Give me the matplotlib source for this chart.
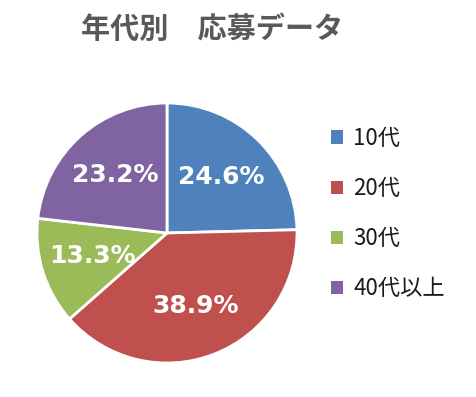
import matplotlib
matplotlib.use("Agg")
import matplotlib.pyplot as plt

plt.rcParams['font.family'] = ['Noto Sans CJK JP', 'DejaVu Sans']

categories = ['10代', '20代', '30代', '40代以上']
values = [24.6, 38.9, 13.3, 23.2]
colors = ['#4F81BD', '#C0504D', '#9BBB59', '#8064A2']
title = '年代別　応募データ'

fig = plt.figure(figsize=(4.76, 3.97), dpi=100)
fig.patch.set_facecolor('white')

W, H = 476, 397
cx, cy, r = 167, 233, 130
ax = fig.add_axes([(cx - r) / W, (H - cy - r) / H, 2 * r / W, 2 * r / H])

wedges, texts, autotexts = ax.pie(
    values, colors=colors, startangle=90, counterclock=False,
    autopct='%.1f%%', pctdistance=0.6,
    wedgeprops=dict(edgecolor='white', linewidth=2.0))
for t in autotexts:
    t.set_fontfamily('DejaVu Sans')
    t.set_fontweight('bold')
    t.set_fontsize(18)
    t.set_color('white')
ax.set_xlim(-1.0, 1.0)
ax.set_ylim(-1.0, 1.0)
ax.set_aspect('equal')
ax.axis('off')

fig.text(212 / W, 1 - 29 / H, title, ha='center', va='center',
         fontsize=21, fontweight='bold', color='#595959')

leg = fig.legend(wedges, categories, loc='upper left',
                 bbox_to_anchor=(331 / W, 1 - 127 / H),
                 frameon=False, fontsize=16,
                 handlelength=0.55, handleheight=0.55, handletextpad=0.45,
                 labelspacing=1.22, borderaxespad=0, borderpad=0)
for t in leg.get_texts():
    t.set_color('#1a1a1a')
for h in leg.legend_handles:
    h.set_edgecolor('none')

fig.savefig('out.png', dpi=100, facecolor='white')
